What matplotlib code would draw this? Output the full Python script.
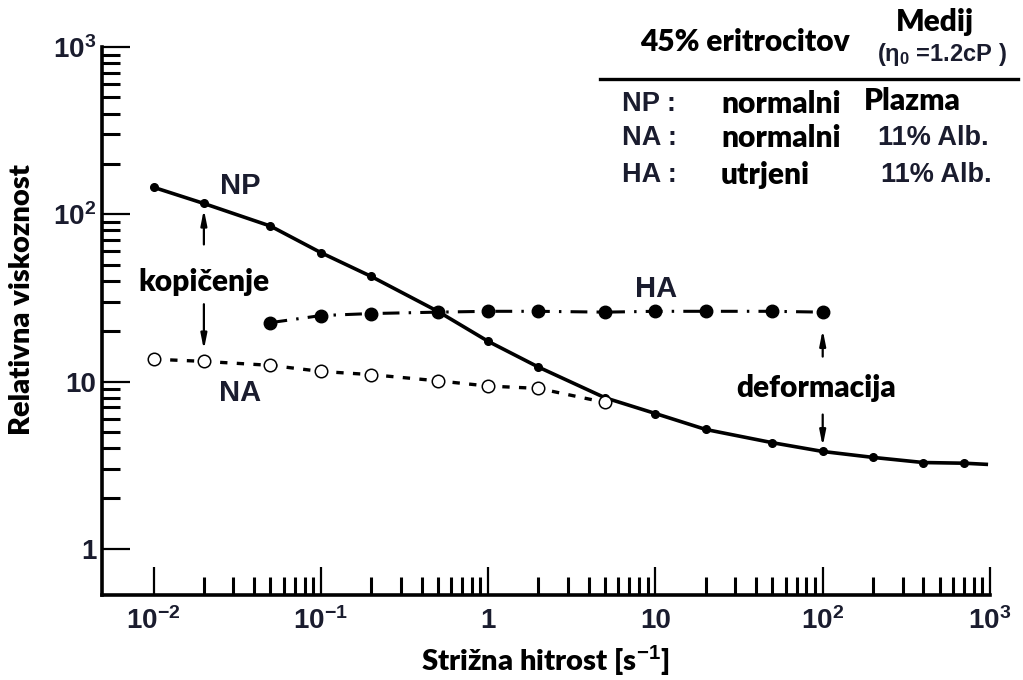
import matplotlib
matplotlib.use('Agg')
import matplotlib.pyplot as plt
from matplotlib.lines import Line2D
from matplotlib.ticker import FixedLocator, FixedFormatter, NullFormatter

plt.rcParams['mathtext.fontset'] = 'custom'
plt.rcParams['mathtext.rm'] = 'Liberation Sans:bold'
plt.rcParams['mathtext.bf'] = 'Liberation Sans:bold'
plt.rcParams['mathtext.it'] = 'Liberation Sans:bold'

# ---------------- data ----------------
np_rate = [0.01, 0.02, 0.05, 0.1, 0.2, 0.5, 1, 2, 5, 10, 20, 50, 100, 200, 400, 700, 950]
np_visc = [145, 116, 85, 59, 42.5, 26.3, 17.4, 12.2, 8.0, 6.44, 5.17, 4.31, 3.82, 3.52, 3.28, 3.25, 3.2]

na_rate = [0.01, 0.02, 0.05, 0.1, 0.2, 0.5, 1, 2, 5]
na_visc = [13.6, 13.2, 12.5, 11.5, 11.0, 10.1, 9.4, 9.1, 7.5]

ha_rate = [0.05, 0.1, 0.2, 0.5, 1, 2, 5, 10, 20, 50, 100]
ha_visc = [22.5, 24.8, 25.5, 26.0, 26.3, 26.3, 26.0, 26.3, 26.3, 26.3, 26.0]

x_major = [1e-2, 1e-1, 1, 10, 1e2, 1e3]
x_labels = [r'$10^{-2}$', r'$10^{-1}$', '1', '10', r'$10^{2}$', r'$10^{3}$']
y_major = [1, 10, 1e2, 1e3]
y_labels = ['1', '10', r'$10^{2}$', r'$10^{3}$']

W, H = 1023, 680
CAL = ['Lato', 'Open Sans', 'DejaVu Sans']
ARI = ['Liberation Sans', 'DejaVu Sans']
NAR = ['Liberation Sans Narrow', 'DejaVu Sans Condensed', 'Liberation Sans']
NAVY = '#1a1c2e'
CW = 'heavy'

fig = plt.figure(figsize=(W / 100, H / 100), dpi=100)
ax = fig.add_axes([102 / W, 85 / H, 888 / W, 548 / H])
ax.set_xscale('log')
ax.set_yscale('log')
ax.set_xlim(10 ** (-2.308), 1000)
ax.set_ylim(10 ** (-0.276), 1000)

for s in ['top', 'right']:
    ax.spines[s].set_visible(False)
for s in ['left', 'bottom']:
    ax.spines[s].set_linewidth(2.6)

xminor = [m * 10 ** d for d in range(-2, 3) for m in range(2, 10)]
yminor = [m * 10 ** d for d in range(0, 3) for m in range(2, 10)]
ax.xaxis.set_major_locator(FixedLocator(x_major))
ax.xaxis.set_major_formatter(FixedFormatter(x_labels))
ax.xaxis.set_minor_locator(FixedLocator(xminor))
ax.xaxis.set_minor_formatter(NullFormatter())
ax.yaxis.set_major_locator(FixedLocator(y_major))
ax.yaxis.set_major_formatter(FixedFormatter(y_labels))
ax.yaxis.set_minor_locator(FixedLocator(yminor))
ax.yaxis.set_minor_formatter(NullFormatter())

ax.tick_params(which='major', direction='in', length=20, width=1.6, colors='black')
ax.tick_params(which='minor', direction='in', length=13, width=2.2, colors='black')
ax.tick_params(axis='x', which='major', pad=9)
ax.tick_params(axis='y', which='major', pad=4)
for lab in ax.get_xticklabels() + ax.get_yticklabels():
    lab.set_fontfamily(ARI)
    lab.set_fontweight('bold')
    lab.set_fontsize(20)
    lab.set_color(NAVY)

# ---------------- series ----------------
ax.plot(np_rate, np_visc, '-', color='black', lw=2.6, marker='o', ms=5.5,
        markevery=list(range(len(np_rate) - 1)), zorder=3)
ax.plot(ha_rate, ha_visc, color='black', lw=2.2, linestyle=(0, (5.5, 3, 0.8, 3)),
        marker='o', ms=9, zorder=4)
ax.plot(na_rate, na_visc, color='black', lw=2.4, linestyle=(0, (2.2, 2.8)),
        marker='o', ms=9, mfc='white', mec='black', mew=1.1, zorder=5)

# ---------------- labels in plot ----------------
for xx, yy, tt in [(0.033, 147, 'NP'), (0.033, 8.6, 'NA'), (10.1, 35.6, 'HA')]:
    ax.text(xx, yy, tt, fontsize=21, fontfamily=NAR, fontweight='bold', color=NAVY,
            ha='center', va='center')

ax.text(0.02, 39.3, 'kopičenje', fontsize=21.5, fontfamily=CAL, fontweight=CW,
        color='black', ha='center', va='center')
ax.text(91, 9.2, 'deformacija', fontsize=21.5, fontfamily=CAL, fontweight=CW,
        color='black', ha='center', va='center')

arrow = dict(arrowstyle='-|>,head_length=0.9,head_width=0.18', color='black', lw=1.6,
             shrinkA=0, shrinkB=0)
ax.annotate('', xy=(0.02, 107), xytext=(0.02, 66), arrowprops=arrow)
ax.annotate('', xy=(0.02, 15.5), xytext=(0.02, 29), arrowprops=arrow)
ax.annotate('', xy=(100, 20.4), xytext=(100, 14.1), arrowprops=arrow)
ax.annotate('', xy=(100, 4.1), xytext=(100, 6.35), arrowprops=arrow)

# ---------------- axis titles ----------------
fig.text(545 / W, 1 - 661 / H, 'Strižna hitrost [s$^{-1}$]', fontsize=21,
         fontfamily=CAL, fontweight=CW, ha='center', va='center')
fig.text(22 / W, 1 - 300 / H, 'Relativna viskoznost', fontsize=21, fontfamily=CAL,
         fontweight=CW, rotation=90, ha='center', va='center')

# ---------------- legend table ----------------
def ftxt(x, y, s, **kw):
    fig.text(x / W, 1 - y / H, s, **kw)

ftxt(745, 42, '45% eritrocitov', fontsize=21.5, fontfamily=CAL, fontweight=CW,
     ha='center', va='center')
ftxt(935, 22, 'Medij', fontsize=21.5, fontfamily=CAL, fontweight=CW,
     ha='center', va='center')
ftxt(942, 55, '(η$_{0}$ =1.2cP )', fontsize=17, fontfamily=ARI, fontweight='bold',
     color=NAVY, ha='center', va='center')
fig.add_artist(Line2D([600 / W, 1018 / W], [1 - 79 / H, 1 - 79 / H],
                      transform=fig.transFigure, color='black', lw=2.4))

rows_y = [104, 138, 175]
for yy, tt in zip(rows_y, ['NP :', 'NA :', 'HA :']):
    ftxt(622, yy, tt, fontsize=19.5, fontfamily=ARI, fontweight='bold',
         color=NAVY, ha='left', va='center')
for yy, tt in zip(rows_y, ['normalni', 'normalni', 'utrjeni']):
    ftxt(721, yy, tt, fontsize=21.5, fontfamily=CAL, fontweight=CW,
         ha='left', va='center')
ftxt(864, rows_y[0] - 3, 'Plazma', fontsize=21.5, fontfamily=CAL, fontweight=CW,
     ha='left', va='center')
ftxt(878, rows_y[1], '11% Alb.', fontsize=19.5, fontfamily=ARI, fontweight='bold',
     color=NAVY, ha='left', va='center')
ftxt(881, rows_y[2], '11% Alb.', fontsize=19.5, fontfamily=ARI, fontweight='bold',
     color=NAVY, ha='left', va='center')

fig.savefig('out.png', dpi=100)
